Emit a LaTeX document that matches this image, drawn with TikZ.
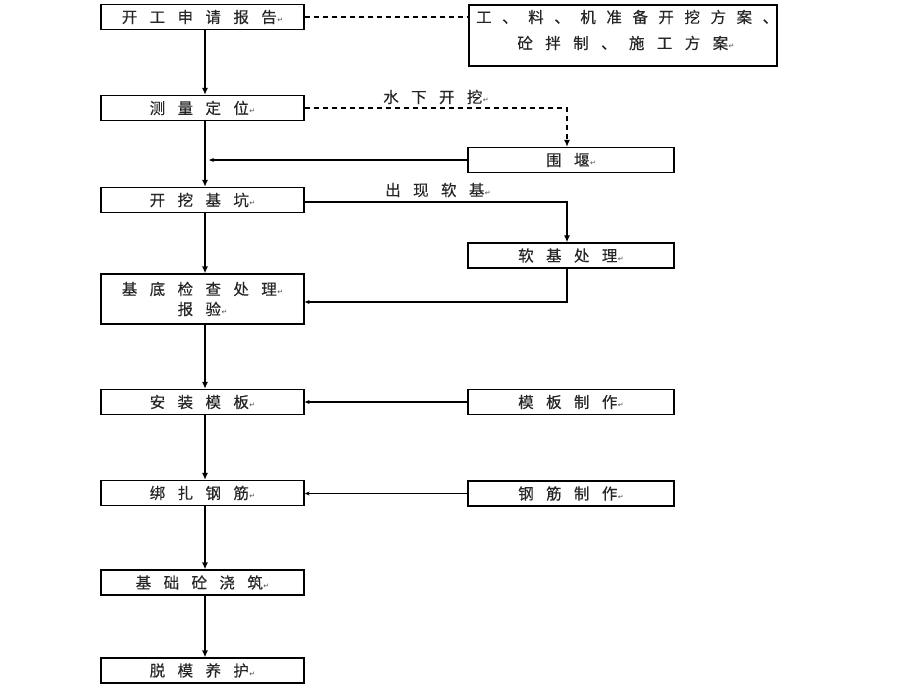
\documentclass[tikz,border=0pt]{standalone}
\usepackage{fontspec}
\newfontfamily\cjk[LetterSpace=80,FakeBold=0.35]{Noto Sans CJK SC}
\newfontfamily\cjknarrow[LetterSpace=68,FakeBold=0.35]{Noto Sans CJK SC}
\newfontfamily\symf{DejaVu Sans}
\newcommand{\rmk}{{\symf\fontsize{7}{7}\selectfont\color{black!70}\kern0.5pt ↵}}
\usetikzlibrary{arrows.meta}
\begin{document}
\begin{tikzpicture}[x=1pt,y=-1pt,
  txt/.style={font=\cjk\fontsize{15.5}{20}\selectfont, inner sep=0pt, text=black!85},
  box/.style={draw=black, line width=1.3pt, minimum height=25pt, inner sep=0pt, txt},
  mainbox/.style={box, minimum width=203pt},
  sidebox/.style={box, minimum width=206pt},
  flow/.style={line width=1.3pt, -{Latex[length=7pt,width=6pt]}},
  feed/.style={line width=1.3pt, -{Stealth[length=5pt,width=4pt]}},
  dline/.style={line width=1.3pt, dash pattern=on 5pt off 4pt},
  lbl/.style={txt}
]
\fill[white] (0,0) rectangle (920,690);
\useasboundingbox (0,0) rectangle (920,690);

% main column
\node[mainbox] (A) at (202.5,17) {开工申请报告\rmk};
\node[mainbox] (C) at (202.5,108) {测量定位\rmk};
\node[mainbox] (D) at (202.5,200) {开挖基坑\rmk};
\node[mainbox, minimum height=50pt, align=center] (E) at (202.5,299) {基底检查处理\rmk\\报验\rmk};
\node[mainbox] (F) at (202.5,402) {安装模板\rmk};
\node[mainbox] (G) at (202.5,493) {绑扎钢筋\rmk};
\node[mainbox] (H) at (202.5,582.5) {基础砼浇筑\rmk};
\node[mainbox] (I) at (202.5,670.5) {脱模养护\rmk};

% right column
\node[draw, line width=1.3pt, minimum width=308pt, minimum height=61pt, inner sep=0pt] (B) at (623,35.5) {};
\node[txt, font=\cjknarrow\fontsize{15.5}{20}\selectfont, anchor=west] (B1) at (476,17) {工、料、机准备开挖方案、};
\node[txt] (B2) at (626,43) {砼拌制、施工方案\rmk};
\node[sidebox] (W) at (571,160) {围堰\rmk};
\node[sidebox] (R) at (571,255.5) {软基处理\rmk};
\node[sidebox] (M) at (571,402) {模板制作\rmk};
\node[sidebox] (S) at (571,493.5) {钢筋制作\rmk};

\coordinate (cx) at (205,0);
\coordinate (rx) at (567,0);

% main flow
\draw[flow] (A.south -| cx) -- (C.north -| cx);
\draw[flow] (C.south -| cx) -- (D.north -| cx);
\draw[flow] (D.south -| cx) -- (E.north -| cx);
\draw[flow] (E.south -| cx) -- (F.north -| cx);
\draw[flow] (F.south -| cx) -- (G.north -| cx);
\draw[flow] (G.south -| cx) -- (H.north -| cx);
\draw[flow] (H.south -| cx) -- (I.north -| cx);

% side connections
\draw[dline] (A.east) -- (A.east -| B.west);
\draw[dline, -{Latex[length=7pt,width=6pt]}] (C.east) -- (C.east -| rx) -- (W.north -| rx);
\node[lbl] (L1) at (436,97) {水下开挖\rmk};
\draw[feed, shorten >=4pt] (W.west) -- (W.west -| cx);
\draw[flow] (D.east |- 0,202) coordinate (d1) -- (d1 -| rx) -- (R.north -| rx);
\node[lbl] (L2) at (438,190) {出现软基\rmk};
\draw[feed] (R.south -| rx) -- (rx |- 0,302) -- (E.east |- 0,302);
\draw[feed] (M.west) -- (F.east);
\draw[feed] (S.west) -- (G.east |- S.west);
\end{tikzpicture}
\end{document}
